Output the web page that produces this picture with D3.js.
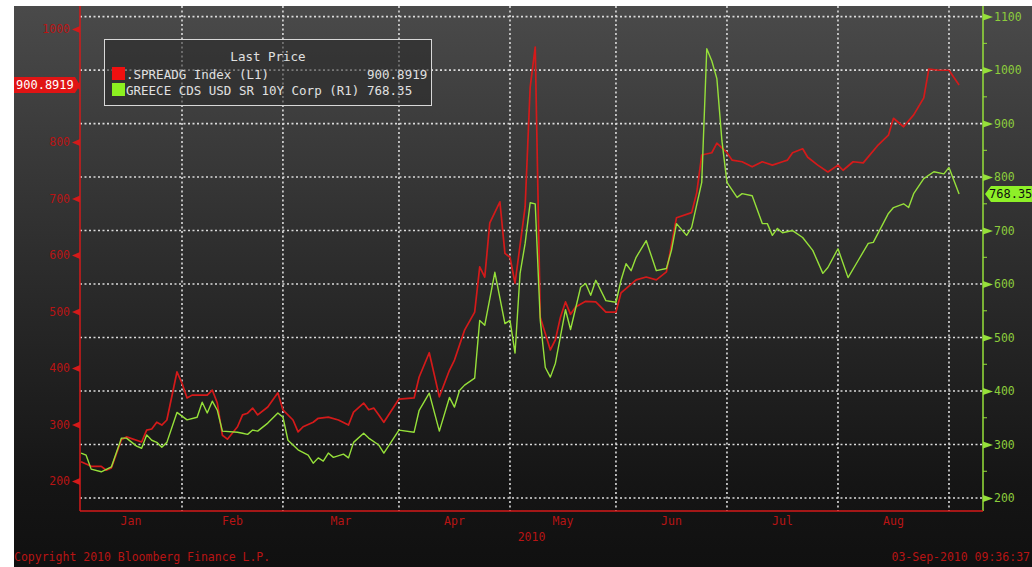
<!DOCTYPE html>
<html>
<head>
<meta charset="utf-8">
<script src="https://cdn.jsdelivr.net/npm/d3@7/dist/d3.min.js"></script>
<style>
  body { margin: 0; background: #fff; }
  svg text { font-family: "DejaVu Sans Mono", "Liberation Mono", monospace; }
</style>
</head>
<body>
<script>
// Bloomberg-style chart: .SPREADG Index vs GREECE CDS USD SR 10Y, Jan-Sep 2010.

const WIDTH  = 1032;
const HEIGHT = 567;
const LEFT = 80, RIGHT = 983, TOP = 6, BOTTOM = 511;

const RED   = '#d41a1a';
const GREEN = '#96e03a';

// Series (left axis: SPREADG, right axis: Greece CDS).
const redDates = [
  '01-04','01-06','01-08','01-11','01-12','01-14','01-15','01-20','01-21','01-22','01-25','01-26','01-27','01-29',
  '02-01','02-02','02-03','02-05','02-08','02-09','02-10','02-11','02-12','02-16','02-17','02-18','02-19','02-22','02-24','02-26',
  '03-01','03-03','03-04','03-05','03-09','03-10','03-12','03-16','03-18','03-19','03-23','03-24','03-25','03-26','03-29',
  '04-01','04-06','04-07','04-09','04-13','04-15','04-16','04-20','04-22','04-23','04-26','04-27','04-29','04-30',
  '05-03','05-04','05-06','05-07','05-10','05-11','05-13','05-14','05-17','05-18','05-19','05-20','05-24','05-26','05-28',
  '06-01','06-02','06-07','06-09','06-11','06-15','06-17','06-22','06-23','06-24','06-28','06-29',
  '07-01','07-02','07-06','07-08','07-12','07-14','07-16','07-19','07-20','07-22','07-23','07-27','07-29',
  '08-02','08-03','08-05','08-09','08-12','08-16','08-17','08-19','08-23','08-25','08-26','08-30',
  '09-01','09-03'
];
const redValues = [
  234, 226, 226, 219, 223, 273, 278, 269, 290, 292, 304, 299, 308, 393,
  373, 347, 352, 352, 352, 361, 338, 281, 274, 296, 317, 320, 329, 317, 331, 356,
  326, 308, 287, 296, 304, 311, 313, 308, 299, 322, 338, 326, 329, 317, 304,
  345, 347, 384, 427, 349, 396, 414, 467, 499, 579, 561, 657, 694, 603,
  596, 550, 685, 897, 968, 490, 432, 450, 490, 517, 495, 508, 518, 517, 499,
  499, 533, 556, 561, 556, 570, 666, 675, 710, 777, 781, 798,
  781, 768, 765, 756, 765, 759, 765, 768, 781, 788, 773, 759, 747,
  759, 750, 765, 763, 795, 812, 842, 827, 848, 878, 929, 927,
  927, 900.8919
];

const greenDates = [
  '01-04','01-05','01-06','01-08','01-12','01-14','01-15','01-19','01-20','01-21','01-22','01-25','01-26','01-27','01-29',
  '02-02','02-04','02-05','02-08','02-09','02-10','02-11','02-16','02-17','02-18','02-19','02-22','02-24','02-26',
  '03-01','03-02','03-04','03-08','03-09','03-10','03-11','03-12','03-15','03-17','03-18','03-19','03-23','03-24','03-26','03-29',
  '04-01','04-06','04-07','04-09','04-13','04-15','04-16','04-19','04-20','04-22','04-23','04-26','04-28','04-30',
  '05-03','05-04','05-05','05-06','05-07','05-10','05-11','05-12','05-13','05-14','05-18','05-19','05-21','05-24','05-25','05-26','05-28',
  '06-01','06-02','06-03','06-04','06-07','06-09','06-11','06-15','06-16','06-17','06-21','06-22','06-24','06-25','06-28','06-29','06-30',
  '07-01','07-05','07-06','07-08','07-12','07-13','07-14','07-15','07-16','07-20','07-22','07-26','07-28','07-29',
  '08-02','08-04','08-06','08-10','08-11','08-16','08-17','08-19','08-20','08-23','08-25','08-27','08-31',
  '09-01','09-03'
];
const greenValues = [
  284, 280, 254, 249, 258, 312, 312, 297, 293, 318, 308, 304, 295, 304, 360,
  346, 351, 379, 359, 381, 364, 325, 323, 321, 319, 327, 325, 340, 359,
  351, 308, 290, 280, 265, 275, 269, 284, 276, 282, 275, 304, 321, 312, 299, 284,
  327, 323, 364, 396, 325, 388, 370, 401, 411, 424, 532, 523, 622, 526,
  532, 471, 620, 676, 752, 750, 532, 444, 426, 452, 552, 515, 594, 601, 579, 607, 569,
  566, 607, 638, 625, 650, 681, 625, 629, 663, 713, 691, 706, 790, 1040, 1017, 984, 868,
  790, 762, 769, 765, 713, 713, 691, 704, 696, 700, 687, 663, 620, 631,
  666, 612, 644, 676, 678, 732, 743, 750, 743, 769, 797, 810, 806,
  818, 768.35
];

// 900 sits under the last-value flag, so it gets a marker but no label.
const leftTicks   = [200, 300, 400, 500, 600, 700, 800, 900, 1000];
const rightTicks  = [200, 300, 400, 500, 600, 700, 800, 900, 1000, 1100];
const rightMinor  = [250, 350, 450, 550, 650, 750, 850, 950, 1050];
const monthStarts = ['02-01', '03-01', '04-01', '05-03', '06-01', '07-01', '08-02', '09-01'];
const monthLabels = ['Jan', 'Feb', 'Mar', 'Apr', 'May', 'Jun', 'Jul', 'Aug'];

const legendRows = [
  {name: '.SPREADG Index  (L1)',             value: '900.8919', color: '#f01010'},
  {name: 'GREECE CDS USD SR 10Y Corp  (R1)', value: '768.35',   color: '#8cf020'}
];

// Bloomberg squeezes out the weekends, so the x axis counts trading days.
const parseDay = d3.timeParse('%Y-%m-%d');
const YEAR_START = new Date(2010, 0, 1);
const tradingDay = s => d3.timeDay.range(YEAR_START, parseDay('2010-' + s))
                              .filter(d => d.getDay() % 6 !== 0).length;

const x = d3.scaleLinear().domain([0.786, 179.74]).range([LEFT, RIGHT]);
const yLeft  = d3.scaleLinear().domain([200, 1000]).range([481, 29]);
const yRight = d3.scaleLinear().domain([200, 1100]).range([498, 16.6]);

const lastRed   = redValues[redValues.length - 1];
const lastGreen = greenValues[greenValues.length - 1];

const svg = d3.select('body').append('svg')
              .attr('width', WIDTH)
              .attr('height', HEIGHT);

// Dark gradient background (the picture keeps a white margin top-left).
const grad = svg.append('defs').append('linearGradient')
                .attr('id', 'bg').attr('x1', 0).attr('y1', 0).attr('x2', 0).attr('y2', 1);
[[0, '#4a4a4a'], [0.45, '#2d2d2d'], [0.85, '#151515'], [1, '#101010']].forEach(([o, c]) =>
  grad.append('stop').attr('offset', o).attr('stop-color', c));

svg.append('rect')
   .attr('x', 14).attr('y', TOP)
   .attr('width', WIDTH - 14).attr('height', HEIGHT - TOP)
   .attr('fill', 'url(#bg)');

// Dotted grid: horizontal on the right axis ticks, vertical on month starts.
const grid = svg.append('g')
                .attr('stroke', '#dcdcdc')
                .attr('stroke-width', 1.6)
                .attr('stroke-dasharray', '2,2.5');

grid.selectAll('.h')
    .data(rightTicks)
    .enter()
  .append('line')
    .attr('x1', LEFT).attr('x2', RIGHT)
    .attr('y1', d => yRight(d)).attr('y2', d => yRight(d));

const monthX = monthStarts.map(d => x(tradingDay(d)));

grid.selectAll('.v')
    .data(monthX)
    .enter()
  .append('line')
    .attr('x1', d => d).attr('x2', d => d)
    .attr('y1', TOP).attr('y2', BOTTOM);

// Both series.
const redData   = redDates.map((d, i) => [tradingDay(d), redValues[i]]);
const greenData = greenDates.map((d, i) => [tradingDay(d), greenValues[i]]);

svg.append('path')
   .attr('d', d3.line().x(d => x(d[0])).y(d => yLeft(d[1]))(redData))
   .attr('fill', 'none')
   .attr('stroke', RED)
   .attr('stroke-width', 1.7)
   .attr('stroke-linejoin', 'round');

svg.append('path')
   .attr('d', d3.line().x(d => x(d[0])).y(d => yRight(d[1]))(greenData))
   .attr('fill', 'none')
   .attr('stroke', GREEN)
   .attr('stroke-width', 1.4)
   .attr('stroke-linejoin', 'round');

// Left axis (red).
const leftAxis = svg.append('g')
                    .attr('transform', `translate(${LEFT},0)`)
                    .call(d3.axisLeft(yLeft)
                            .tickValues(leftTicks)
                            .tickFormat(d => Math.abs(d - lastRed) < 20 ? '' : d3.format('d')(d))
                            .tickSize(0)
                            .tickPadding(10));
leftAxis.select('.domain').remove();
leftAxis.selectAll('text')
        .attr('fill', '#b81414')
        .style('font-size', '11.5px');
leftAxis.selectAll('.tick')
        .append('path')
        .attr('d', 'M0,-3.5L0,3.5L-8,0Z')
        .attr('fill', RED);

svg.append('line')
   .attr('x1', LEFT).attr('x2', LEFT)
   .attr('y1', TOP).attr('y2', BOTTOM)
   .attr('stroke', RED).attr('stroke-width', 1.5);

// Right axis (green).
const rightAxis = svg.append('g')
                     .attr('transform', `translate(${RIGHT},0)`)
                     .call(d3.axisRight(yRight)
                             .tickValues(rightTicks)
                             .tickFormat(d3.format('d'))
                             .tickSize(0)
                             .tickPadding(11));
rightAxis.select('.domain').remove();
rightAxis.selectAll('text')
         .attr('fill', '#8ccc3c')
         .style('font-size', '11.5px');
rightAxis.selectAll('.tick')
         .append('path')
         .attr('d', 'M0,-3.5L0,3.5L10,0Z')
         .attr('fill', GREEN);

svg.append('g')
   .selectAll('line')
   .data(rightMinor)
   .enter()
 .append('line')
   .attr('x1', RIGHT).attr('x2', RIGHT + 4)
   .attr('y1', d => yRight(d)).attr('y2', d => yRight(d))
   .attr('stroke', GREEN);

svg.append('line')
   .attr('x1', RIGHT).attr('x2', RIGHT)
   .attr('y1', TOP).attr('y2', BOTTOM)
   .attr('stroke', GREEN).attr('stroke-width', 1.5);

// Bottom axis: month names centred between the month boundaries.
svg.append('line')
   .attr('x1', LEFT).attr('x2', RIGHT)
   .attr('y1', BOTTOM).attr('y2', BOTTOM)
   .attr('stroke', RED).attr('stroke-width', 1.5);

const bounds = [LEFT, ...monthX];
svg.append('g')
   .selectAll('text')
   .data(monthLabels)
   .enter()
 .append('text')
   .attr('x', (d, i) => (bounds[i] + bounds[i + 1]) / 2)
   .attr('y', 525)
   .attr('text-anchor', 'middle')
   .attr('fill', '#b81414')
   .style('font-size', '11.5px')
   .text(d => d);

svg.append('text')
   .attr('x', (LEFT + RIGHT) / 2).attr('y', 541)
   .attr('text-anchor', 'middle')
   .attr('fill', '#b81414')
   .style('font-size', '11.5px')
   .text('2010');

// Last-value flags on both axes.
const ry = yLeft(lastRed);
svg.append('path')
   .attr('d', `M14,${ry - 8}L${LEFT - 5},${ry - 8}L${LEFT},${ry}L${LEFT - 5},${ry + 8}L14,${ry + 8}Z`)
   .attr('fill', '#e01414');
svg.append('text')
   .attr('x', 16).attr('y', ry + 4)
   .attr('fill', '#ffffff')
   .style('font-size', '12px')
   .text(d3.format('.4f')(lastRed));

const gy = yRight(lastGreen);
svg.append('path')
   .attr('d', `M${RIGHT + 2},${gy}L${RIGHT + 8},${gy - 8}L${WIDTH},${gy - 8}L${WIDTH},${gy + 8}L${RIGHT + 8},${gy + 8}Z`)
   .attr('fill', '#8ef028');
svg.append('text')
   .attr('x', RIGHT + 6).attr('y', gy + 4)
   .attr('fill', '#101010')
   .style('font-size', '12px')
   .text(lastGreen.toFixed(2));

// Legend box.
const legend = svg.append('g');
legend.append('rect')
      .attr('x', 104.5).attr('y', 39.5)
      .attr('width', 327).attr('height', 66)
      .attr('fill', 'rgba(40,40,40,0.55)')
      .attr('stroke', '#d8d8d8');
legend.append('text')
      .attr('x', 268).attr('y', 61)
      .attr('text-anchor', 'middle')
      .attr('fill', '#e0e0e0')
      .style('font-size', '12.5px')
      .text('Last Price');

const rows = legend.selectAll('.row')
                   .data(legendRows)
                   .enter()
                 .append('g')
                   .attr('transform', (d, i) => `translate(0,${74 + i * 16})`);
rows.append('rect')
    .attr('x', 112).attr('y', -7)
    .attr('width', 13).attr('height', 13)
    .attr('fill', d => d.color);
rows.append('text')
    .attr('x', 126).attr('y', 4.5)
    .attr('fill', '#e0e0e0')
    .style('font-size', '12.5px')
    .text(d => d.name);
rows.append('text')
    .attr('x', 367).attr('y', 4.5)
    .attr('fill', '#e0e0e0')
    .style('font-size', '12.5px')
    .text(d => d.value);

// Footer.
svg.append('text')
   .attr('x', 14).attr('y', 561)
   .attr('fill', '#b81414')
   .style('font-size', '11.5px')
   .text('Copyright 2010 Bloomberg Finance L.P.');
svg.append('text')
   .attr('x', WIDTH - 2).attr('y', 561)
   .attr('text-anchor', 'end')
   .attr('fill', '#b81414')
   .style('font-size', '11.5px')
   .text('03-Sep-2010 09:36:37');
</script>
</body>
</html>
